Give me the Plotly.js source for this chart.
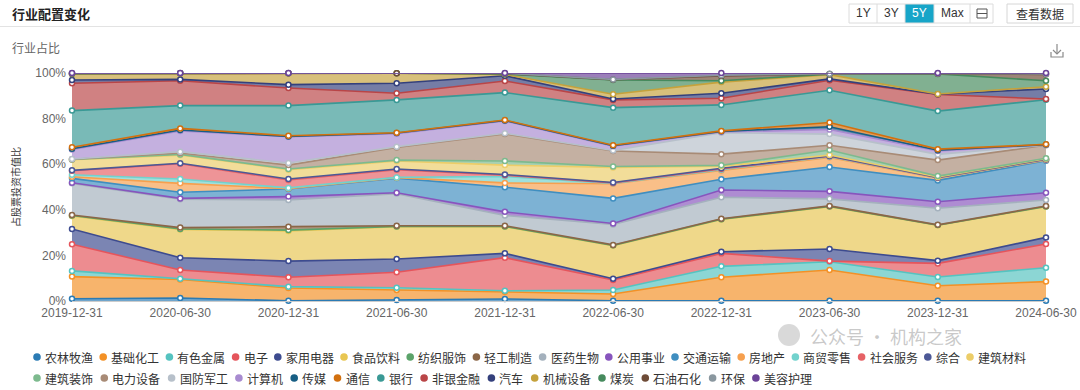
<!DOCTYPE html>
<html><head><meta charset="utf-8">
<script src="https://cdn.plot.ly/plotly-3.0.1.min.js"></script>
<style>html,body{margin:0;padding:0;background:#fff;}#chart{width:1080px;height:390px;}</style>
</head><body><div id="chart"></div>
<script>
// ---------- data ----------
const dates = ['2019-12-31','2020-06-30','2020-12-31','2021-06-30','2021-12-31','2022-06-30','2022-12-31','2023-06-30','2023-12-31','2024-06-30'];
const industries = ['农林牧渔','基础化工','有色金属','电子','家用电器','食品饮料','纺织服饰','轻工制造','医药生物','公用事业','交通运输','房地产','商贸零售','社会服务','综合','建筑材料','建筑装饰','电力设备','国防军工','计算机','传媒','通信','银行','非银金融','汽车','机械设备','煤炭','石油石化','环保','美容护理'];
const yTicks = [0,20,40,60,80,100];

const nongLinMuYu   = [1.0, 1.3, 0.1, 0.4, 0.9, 0.1, 0.1, 0.1, 0.1, 0.1];
const jiChuHuaGong  = [9.7, 8.1, 5.6, 4.4, 3.2, 3.0, 10.3, 13.5, 6.6, 8.4];
const youSeJinShu   = [2.5, 0.4, 0.6, 1.0, 0.4, 1.7, 4.8, 3.6, 3.8, 6.1];
const dianZi        = [11.7, 3.8, 4.1, 6.8, 14.5, 4.4, 5.7, 0.3, 6.0, 10.4];
const jiaYongDianQi = [6.7, 5.4, 7.1, 5.8, 1.9, 0.6, 0.7, 5.3, 1.2, 2.9];
const shiPinYinLiao = [5.7, 12.4, 13.2, 14.2, 11.7, 14.5, 14.2, 18.6, 15.5, 13.5];
const fangZhiFuShi  = [0.2, 0.2, 0.4, 0.1, 0.1, 0.1, 0.1, 0.1, 0.1, 0.1];
const qingGongZhiZao= [0.2, 0.6, 1.5, 0.3, 0.3, 0.2, 0.2, 0.2, 0.1, 0.2];
const yiYaoShengWu  = [13.9, 12.4, 11.7, 14.1, 4.5, 9.0, 9.4, 3.1, 7.3, 2.6];
const gongYongShiYe = [0.3, 0.4, 1.5, 0.4, 1.6, 0.4, 3.2, 3.3, 2.8, 3.2];
const jiaoTongYunShu= [1.9, 2.7, 3.3, 6.4, 10.8, 11.0, 4.7, 10.7, 9.4, 14.0];
const fangDiChan    = [0.7, 3.9, 0.2, 0.2, 1.9, 6.4, 3.8, 4.2, 1.0, 0.3];
const shangMaoLingShou = [0.9, 1.9, 0.3, 0.1, 2.8, 0.2, 0.4, 0.3, 0.1, 0.2];
const sheHuiFuWu    = [1.7, 6.7, 3.5, 3.4, 0.6, 0.2, 0.3, 0.2, 0.1, 0.1];
const zongHe         = [0.2, 0.2, 0.4, 0.3, 0.3, 0.2, 0.3, 0.1, 0.1, 0.1];
const jianZhuCaiLiao = [4.7, 3.6, 4.1, 3.5, 4.1, 6.6, 0.9, 0.4, 0.2, 0.2];
const jianZhuZhuangShi = [0.1, 0.3, 0.3, 0.4, 1.8, 0.4, 0.4, 2.2, 0.4, 0.2];
const dianLiSheBei   = [0.1, 0.6, 1.7, 5.5, 11.9, 6.8, 4.9, 2.1, 7.0, 5.7];
const guoFangJunGong = [0.1, 0.6, 0.9, 0.4, 0.3, 0.2, 9.4, 4.9, 2.5, 0.1];
const jiSuanJi       = [4.2, 9.1, 11.6, 5.7, 5.4, 1.9, 0.3, 2.0, 1.5, 0.1];
const chuanMei       = [0.3, 0.4, 0.1, 0.3, 0.2, 0.2, 0.3, 1.2, 0.3, 0.1];
const tongXin        = [0.6, 0.7, 0.3, 0.1, 0.2, 0.2, 0.2, 1.9, 0.5, 0.1];
const yinHang        = [16.1, 10.0, 13.2, 14.4, 12.0, 16.5, 11.4, 14.1, 16.7, 19.6];
const feiYinJinRong  = [12.0, 10.9, 7.7, 2.9, 5.1, 3.4, 2.9, 4.4, 7.3, 0.3];
const qiChe          = [1.4, 0.6, 1.5, 4.4, 2.3, 0.4, 2.2, 0.6, 0.1, 4.4];
const jiXieSheBei    = [2.7, 2.7, 5.0, 4.4, 0.6, 2.1, 4.9, 1.9, 0.1, 1.0];
const meiTan         = [0.1, 0.0, 0.0, 0.0, 0.2, 6.2, 0.6, 0.2, 8.8, 2.6];
const shiYouShiHua   = [0.1, 0.0, 0.0, 0.0, 0.2, 0.2, 2.1, 0.1, 0.1, 2.8];
const huanBao        = [0.1, 0.1, 0.1, 0.1, 0.1, 0.1, 0.3, 0.1, 0.1, 0.2];
const meiRongHuLi    = [0.1, 0.0, 0.0, 0.0, 0.1, 2.8, 1.0, 0.3, 0.2, 0.4];

const seriesValues = [nongLinMuYu, jiChuHuaGong, youSeJinShu, dianZi, jiaYongDianQi, shiPinYinLiao, fangZhiFuShi, qingGongZhiZao, yiYaoShengWu, gongYongShiYe, jiaoTongYunShu, fangDiChan, shangMaoLingShou, sheHuiFuWu, zongHe, jianZhuCaiLiao, jianZhuZhuangShi, dianLiSheBei, guoFangJunGong, jiSuanJi, chuanMei, tongXin, yinHang, feiYinJinRong, qiChe, jiXieSheBei, meiTan, shiYouShiHua, huanBao, meiRongHuLi];

// ---------- styles ----------
const colors = ['#2b7bb4','#f39126','#55c3c0','#e5555c','#3d4b8f','#e8c652','#5ba36a','#8b6647','#a4b1bd','#8755bd','#3f8ec0','#f6a04f','#72d2cd','#e66266','#4c5896','#eccd68','#7dba8e','#a88b76','#b7c0ca','#a88bd0','#175e84','#d2700f','#3a9995','#b94547','#34407c','#c5a23c','#468a5d','#6e4b37','#8a979f','#6b4398'];
function rgba(hex,a){const n=parseInt(hex.slice(1),16);return `rgba(${n>>16&255},${n>>8&255},${n&255},${a})`;}

const FONT = '"Noto Sans CJK SC", "Noto Sans", sans-serif';
const NUMFONT = '"Liberation Sans Narrow", "Liberation Sans", "Noto Sans CJK SC", sans-serif';
const L=72, R=1046, T=73, B=301, H=390;
const px = x => (x-L)/(R-L);
const py = y => (B-y)/(B-T);

const traces = industries.map((name,i)=>({
  type:'scatter', mode:'lines+markers', x:dates, y:seriesValues[i], name,
  stackgroup:'one', cliponaxis:false,
  line:{color:colors[i], width:1.6},
  fillcolor: rgba(colors[i],0.68),
  marker:{size:5, color:'#ffffff', line:{color:colors[i], width:1.5}},
  showlegend:false, hoverinfo:'skip'
}));

const shapes = [];
const annotations = [];
// header
shapes.push({type:'line', xref:'paper', yref:'paper', x0:px(0), x1:px(1080), y0:py(26.5), y1:py(26.5), line:{color:'#e3e3e3', width:1}});
annotations.push({xref:'paper', yref:'paper', x:px(10), y:py(13), xanchor:'left', yanchor:'middle', showarrow:false, text:'<b>行业配置变化</b>', font:{family:FONT, size:13, color:'#222'}});
annotations.push({xref:'paper', yref:'paper', x:px(10), y:py(47), xanchor:'left', yanchor:'middle', showarrow:false, text:'行业占比', font:{family:FONT, size:12, color:'#666'}});
// range buttons
const btnEdges = [849,877,905,934,970,993];
const btnText = ['1Y','3Y','5Y','Max',''];
shapes.push({type:'rect', xref:'paper', yref:'paper', x0:px(905), x1:px(934), y0:py(23), y1:py(4), fillcolor:'#17a5c8', line:{width:0}});
shapes.push({type:'rect', xref:'paper', yref:'paper', x0:px(849), x1:px(993), y0:py(23), y1:py(4), line:{color:'#dcdcdc', width:1}});
for(let k=1;k<btnEdges.length-1;k++) shapes.push({type:'line', xref:'paper', yref:'paper', x0:px(btnEdges[k]), x1:px(btnEdges[k]), y0:py(23), y1:py(4), line:{color:'#dcdcdc', width:1}});
btnText.forEach((t,k)=>{ if(!t) return; annotations.push({xref:'paper', yref:'paper', x:px((btnEdges[k]+btnEdges[k+1])/2), y:py(13.5), xanchor:'center', yanchor:'middle', showarrow:false, text:t, font:{family:'"Liberation Sans", sans-serif', size:12, color: t==='5Y'?'#ffffff':'#333'}}); });
// calendar icon
shapes.push({type:'rect', xref:'paper', yref:'paper', x0:px(977), x1:px(987), y0:py(18), y1:py(9), line:{color:'#555', width:1}});
shapes.push({type:'line', xref:'paper', yref:'paper', x0:px(977), x1:px(987), y0:py(13.5), y1:py(13.5), line:{color:'#555', width:1}});
// view data button
shapes.push({type:'rect', xref:'paper', yref:'paper', x0:px(1007), x1:px(1073), y0:py(23), y1:py(4), line:{color:'#d6d6d6', width:1}});
annotations.push({xref:'paper', yref:'paper', x:px(1040), y:py(13.5), xanchor:'center', yanchor:'middle', showarrow:false, text:'查看数据', font:{family:FONT, size:12, color:'#333'}});
// download icon
const dl = '#8a8a8a';
shapes.push({type:'line', xref:'paper', yref:'paper', x0:px(1057), x1:px(1057), y0:py(44), y1:py(54), line:{color:dl, width:1.2}});
shapes.push({type:'path', xref:'paper', yref:'paper', path:`M ${px(1053)} ${py(50)} L ${px(1057)} ${py(54)} L ${px(1061)} ${py(50)}`, line:{color:dl, width:1.2}});
shapes.push({type:'path', xref:'paper', yref:'paper', path:`M ${px(1051)} ${py(52)} L ${px(1051)} ${py(57)} L ${px(1063)} ${py(57)} L ${px(1063)} ${py(52)}`, line:{color:dl, width:1.2}});
// watermark
shapes.push({type:'circle', xref:'paper', yref:'paper', x0:px(778), x1:px(800), y0:py(346), y1:py(324), fillcolor:'rgba(170,170,170,0.45)', line:{width:0}, layer:'above'});
annotations.push({xref:'paper', yref:'paper', x:px(808), y:py(335.5), xanchor:'left', yanchor:'middle', showarrow:false, text:'公众号 · 机构之家', font:{family:FONT, size:18, color:'rgba(165,165,165,0.6)'}});
// legend (dot + label)
const rows = [industries.slice(0,16), industries.slice(16)];
const rowY = [357, 378];
const rowGap = [18.2, 19.3];
let idx = 0;
rows.forEach((row,r)=>{
  let x = 37;
  row.forEach(name=>{
    const c = colors[idx++];
    shapes.push({type:'circle', xref:'paper', yref:'paper', x0:px(x-3.8), x1:px(x+3.8), y0:py(rowY[r]+3.8), y1:py(rowY[r]-3.8), fillcolor:c, line:{width:0}});
    annotations.push({xref:'paper', yref:'paper', x:px(x+6), y:py(rowY[r]), xanchor:'left', yanchor:'middle', showarrow:false, text:name, font:{family:FONT, size:12, color:'#333'}});
    x += rowGap[r] + 12*name.length;
  });
});

const layout = {
  width:1080, height:390, paper_bgcolor:'#fff', plot_bgcolor:'#fff',
  margin:{l:L, r:1080-R, t:T, b:H-B, autoexpand:false},
  font:{family:FONT},
  showlegend:false,
  xaxis:{type:'category', range:[0,9], showgrid:false, zeroline:false, showline:true, linecolor:'#cccccc', ticks:'', ticklabelstandoff:1, tickfont:{family:NUMFONT, size:12, color:'#666'}, fixedrange:true},
  yaxis:{range:[0,100], tickvals:yTicks, ticktext:yTicks.map(v=>v+'%'), showgrid:false, zeroline:false, ticks:'', ticklabelstandoff:5, tickfont:{family:NUMFONT, size:12, color:'#666'},
         title:{text:'占股票投资市值比', font:{family:FONT, size:10, color:'#333'}, standoff:12}, fixedrange:true},
  shapes, annotations
};
Plotly.newPlot('chart', traces, layout, {displayModeBar:false, staticPlot:true});
</script></body></html>
